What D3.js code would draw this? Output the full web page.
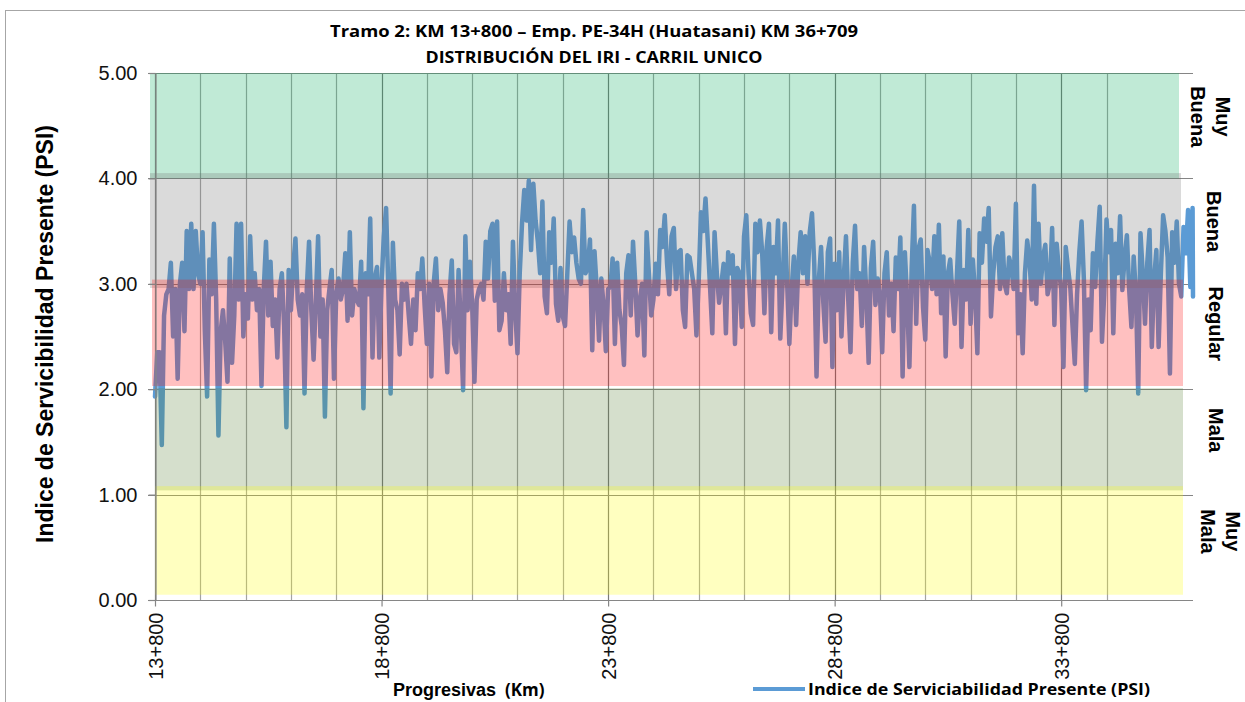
<!DOCTYPE html>
<html>
<head>
<meta charset="utf-8">
<script src="https://cdn.jsdelivr.net/npm/d3@7"></script>
<style>
  html, body { margin: 0; padding: 0; background: #fff; }
  svg { display: block; }
</style>
</head>
<body>
<svg id="chart" width="1245" height="702"></svg>
<script>
// ---- chart data ----
const titleLines = [
  "Tramo 2: KM 13+800 \u2013 Emp. PE-34H (Huatasani) KM 36+709",
  "DISTRIBUCIÓN DEL IRI - CARRIL UNICO"
];
const yAxisTitle = "Indice de Servicibilidad Presente (PSI)";
const seriesName = "Indice de Serviciabilidad Presente (PSI)";

// progressive chainage (km), readings every 50 m, last reading at the end of the section
const startKm = 13.8;
const endKm = 36.709;
const stepKm = 0.05;

// PSI readings, one row per kilometre
const psi = [
  1.93, 2.35, 2.35, 1.47, 2.70, 2.90, 2.95, 3.20, 2.50, 2.95, 2.10, 3.00, 3.20, 2.55, 3.50, 2.95, 3.57, 2.95, 3.50, 3.10,
  3.00, 3.49, 2.55, 1.93, 3.23, 2.90, 3.57, 2.85, 1.56, 2.55, 2.75, 2.45, 2.07, 3.24, 2.25, 2.70, 3.57, 2.85, 3.57, 2.50,
  2.90, 2.67, 3.45, 2.85, 3.10, 2.75, 2.95, 2.03, 2.95, 3.40, 2.70, 3.21, 2.60, 2.85, 2.30, 2.95, 3.10, 2.60, 1.64, 3.13,
  2.75, 3.16, 3.43, 2.85, 2.70, 2.90, 1.96, 2.95, 3.40, 2.75, 2.28, 2.85, 3.45, 2.50, 2.85, 1.74, 2.75, 2.95, 3.13, 2.10,
  2.90, 3.05, 2.85, 2.95, 3.29, 2.65, 3.49, 2.70, 2.95, 2.85, 2.80, 3.21, 1.82, 3.10, 2.90, 3.62, 2.30, 3.05, 3.16, 2.30,
  3.00, 3.45, 3.72, 2.95, 1.96, 3.39, 2.85, 2.75, 2.33, 3.00, 2.85, 3.00, 2.70, 2.43, 2.85, 2.56, 3.10, 2.95, 3.24, 2.80,
  2.43, 3.00, 2.12, 3.00, 3.24, 2.75, 2.95, 2.82, 2.55, 2.16, 2.90, 3.22, 2.43, 2.35, 3.13, 2.60, 1.99, 3.45, 2.75, 3.21,
  2.80, 2.07, 2.85, 2.95, 3.00, 2.85, 3.40, 3.05, 3.50, 3.57, 2.84, 3.59, 2.56, 2.65, 3.10, 2.75, 2.90, 2.43, 3.40, 2.75,
  2.34, 3.10, 3.57, 3.89, 3.60, 3.98, 3.32, 3.95, 3.60, 3.40, 3.10, 3.78, 2.88, 2.72, 3.49, 3.20, 3.62, 2.81, 2.65, 3.15,
  2.69, 2.60, 3.10, 3.59, 3.30, 3.44, 3.20, 3.05, 3.00, 3.70, 3.10, 3.15, 3.42, 2.37, 3.31, 2.95, 2.46, 3.05, 2.80, 2.36,
  2.95, 2.97, 3.24, 2.43, 3.20, 2.75, 2.60, 2.23, 3.10, 3.27, 2.70, 3.40, 3.00, 2.51, 2.85, 3.00, 2.32, 3.49, 3.10, 2.70,
  2.85, 3.19, 2.90, 3.51, 3.35, 3.65, 3.20, 2.90, 3.45, 3.53, 2.95, 3.30, 3.32, 2.75, 2.59, 3.27, 3.25, 3.10, 2.95, 2.51,
  3.03, 3.68, 3.50, 3.81, 3.40, 2.97, 2.53, 3.49, 3.10, 2.82, 3.00, 3.19, 2.53, 3.30, 3.10, 3.27, 2.43, 3.15, 3.10, 2.59,
  3.45, 3.65, 3.10, 2.72, 2.61, 3.57, 3.30, 3.60, 3.30, 2.72, 3.35, 3.57, 2.54, 3.35, 3.10, 3.60, 2.48, 3.00, 3.57, 3.03,
  2.43, 2.95, 3.26, 2.61, 3.20, 3.49, 3.10, 3.45, 3.00, 3.49, 3.67, 3.19, 2.12, 3.03, 3.35, 2.82, 2.45, 3.30, 3.43, 2.21,
  3.19, 2.75, 3.30, 2.50, 3.05, 3.45, 2.85, 2.35, 3.20, 3.55, 2.95, 3.10, 2.60, 3.35, 2.90, 2.25, 3.15, 3.40, 2.80, 3.05,
  2.90, 2.35, 3.10, 3.30, 2.70, 3.00, 2.55, 3.25, 2.95, 3.44, 2.12, 3.30, 2.85, 2.21, 3.15, 3.74, 2.62, 3.33, 3.42, 2.78,
  2.47, 3.32, 3.20, 2.95, 3.45, 2.90, 3.56, 2.72, 3.26, 2.31, 3.10, 3.23, 2.90, 2.62, 3.10, 3.59, 2.40, 3.13, 2.85, 3.51,
  2.62, 3.23, 2.90, 2.34, 3.48, 3.20, 3.62, 3.40, 3.72, 2.69, 3.10, 3.35, 3.45, 2.95, 3.48, 3.00, 2.91, 3.25, 3.16, 2.95,
  3.76, 2.53, 2.90, 2.34, 3.10, 3.41, 3.23, 2.85, 3.93, 2.81, 3.57, 3.00, 3.26, 3.37, 2.90, 3.00, 3.53, 2.61, 3.38, 3.13,
  2.95, 2.21, 3.35, 3.15, 2.97, 2.60, 2.24, 2.90, 3.30, 3.59, 3.05, 1.99, 2.85, 2.56, 3.29, 2.97, 3.40, 3.73, 2.45, 2.91,
  3.61, 3.30, 3.51, 2.53, 3.38, 3.10, 3.64, 2.94, 3.25, 3.46, 2.95, 2.59, 3.26, 2.90, 1.96, 3.48, 3.10, 2.62, 3.20, 3.51,
  2.40, 3.04, 3.32, 2.40, 3.10, 3.65, 3.50, 3.25, 2.15, 3.49, 3.20, 3.59, 3.00, 2.88, 3.54, 3.29, 3.70, 2.97, 3.72, 2.88
];

// axis ticks
const xTickKm = [13.8, 18.8, 23.8, 28.8, 33.8];
const yTicks = [0, 1, 2, 3, 4, 5];

// condition bands (PSI ranges), top to bottom
const bandNames = [["Muy", "Buena"], ["Buena"], ["Regular"], ["Mala"], ["Muy", "Mala"]];
const bandLow  = [4.00, 2.96, 2.03, 1.04, 0.05];
const bandHigh = [5.00, 4.05, 3.04, 2.01, 1.08];
const bandColors = ["rgb(3,171,91)", "rgb(107,107,107)", "rgb(255,3,3)", "rgb(87,127,51)", "rgb(255,255,3)"];

// ---- drawing ----
const W = 1245, H = 702;
const plot = { left: 155, right: 1193, top: 73, bottom: 600 };
const sans = "'Liberation Sans', Arial, sans-serif";
const narrow = "'Open Sans', 'Liberation Sans', sans-serif";
const lineBlue = "#5b9bd5";

const stations = psi.map((_, i) => (i === psi.length - 1 ? endKm : startKm + i * stepKm));

const x = d3.scaleLinear().domain([startKm, endKm]).range([plot.left, plot.right]);
const y = d3.scaleLinear().domain([0, 5]).range([plot.bottom, plot.top]);

const svg = d3.select("#chart");

// chart frame
svg.append("rect")
  .attr("x", 5.5).attr("y", 10.5)
  .attr("width", W).attr("height", H)
  .attr("fill", "#fff").attr("stroke", "#a6a6a6");

// gridlines: one vertical per kilometre, darker every 5 km
const gridKm = d3.range(0, Math.floor(endKm - startKm)).map(k => startKm + k);
svg.append("g").selectAll("line").data(gridKm).join("line")
  .attr("x1", d => Math.round(x(d)) + 0.5).attr("x2", d => Math.round(x(d)) + 0.5)
  .attr("y1", y(5)).attr("y2", y(0))
  .attr("stroke", (d, i) => (i % 5 === 0 ? "#7a7a7a" : "#a3a3a3"))
  .attr("stroke-width", 1.2);

svg.append("g").selectAll("line").data(yTicks.filter(t => t > 0)).join("line")
  .attr("x1", plot.left - 7).attr("x2", plot.right)
  .attr("y1", d => Math.round(y(d)) + 0.5).attr("y2", d => Math.round(y(d)) + 0.5)
  .attr("stroke", "#858585").attr("stroke-width", 1.2);

// PSI series
const line = d3.line()
  .x((d, i) => x(stations[i]))
  .y(d => y(d));

svg.append("path")
  .datum(psi)
  .attr("d", line)
  .attr("fill", "none")
  .attr("stroke", lineBlue)
  .attr("stroke-width", 4.5)
  .attr("stroke-linejoin", "round")
  .attr("stroke-linecap", "round");

// translucent condition bands laid over the series
const bandLeftPad = [-5, -5, -3, 0, 0];
const bandRightPad = [-14, -12, -10, -10, -10];
svg.append("g").selectAll("rect").data(bandLow).join("rect")
  .attr("x", (d, i) => plot.left + bandLeftPad[i])
  .attr("width", (d, i) => (plot.right + bandRightPad[i]) - (plot.left + bandLeftPad[i]))
  .attr("y", (d, i) => y(bandHigh[i]))
  .attr("height", (d, i) => y(bandLow[i]) - y(bandHigh[i]))
  .attr("fill", (d, i) => bandColors[i])
  .attr("fill-opacity", 0.25);

// axes
const yAxis = svg.append("g")
  .attr("transform", `translate(${plot.left + 0.5},0)`)
  .call(d3.axisLeft(y).tickValues(yTicks).tickFormat(d3.format(".2f")).tickSize(7).tickSizeOuter(0).tickPadding(11));
yAxis.select(".domain").attr("stroke", "#868686").attr("stroke-width", 1.2);
yAxis.selectAll(".tick line").attr("stroke", "#868686").attr("stroke-width", 1.2);
yAxis.selectAll(".tick text")
  .attr("font-family", sans).attr("font-size", 20).attr("fill", "#111");

const kmLabel = km => {
  const whole = Math.floor(km + 1e-9);
  const m = Math.round((km - whole) * 1000);
  return `${whole}+${String(m).padStart(3, "0")}`;
};

const xAxis = svg.append("g")
  .attr("transform", `translate(0,${plot.bottom + 0.5})`)
  .call(d3.axisBottom(x).tickValues(xTickKm).tickFormat(kmLabel).tickSize(6).tickSizeOuter(0));
xAxis.select(".domain").attr("stroke", "#868686").attr("stroke-width", 1.2)
  .attr("d", `M${plot.left - 7},0H${plot.right}`);
xAxis.selectAll(".tick line").attr("stroke", "#868686").attr("stroke-width", 1.2);
xAxis.selectAll(".tick text")
  .attr("font-family", sans).attr("font-size", 20).attr("fill", "#111")
  .attr("transform", "rotate(-90)")
  .attr("text-anchor", "end")
  .attr("x", -12).attr("y", 0).attr("dy", "0.36em");

// titles
svg.append("g").selectAll("text").data(titleLines).join("text")
  .attr("x", 594)
  .attr("y", (d, i) => 37 + i * 26)
  .attr("text-anchor", "middle")
  .attr("font-family", narrow).attr("font-weight", "bold").attr("font-size", 16)
  .attr("textLength", (d, i) => (i === 0 ? 528 : 337))
  .attr("lengthAdjust", "spacingAndGlyphs")
  .text(d => d);

svg.append("text")
  .attr("transform", "translate(53,334) rotate(-90)")
  .attr("text-anchor", "middle")
  .attr("font-family", sans).attr("font-weight", "bold").attr("font-size", 23)
  .text(yAxisTitle);

const xTitle = svg.append("text")
  .attr("y", 696)
  .attr("font-weight", "bold").attr("fill", "#000");
xTitle.append("tspan").attr("x", 393).attr("font-family", sans).attr("font-size", 18).text("Progresivas");
xTitle.append("tspan").attr("x", 505).attr("font-family", narrow).attr("font-size", 17).text("(Km)");

// band names on the right
const bandLabelX = [1210, 1214, 1216, 1216, 1220];
bandNames.forEach((lines, i) => {
  const cy = y((bandLow[i] + bandHigh[i]) / 2) - 9;
  const t = svg.append("text")
    .attr("transform", `translate(${bandLabelX[i]},${cy}) rotate(90)`)
    .attr("text-anchor", "middle")
    .attr("font-family", sans).attr("font-weight", "bold").attr("font-size", 20)
    .attr("fill", "#000");
  lines.forEach((s, j) => {
    t.append("tspan")
      .attr("x", 0)
      .attr("y", (j - (lines.length - 1) / 2) * 25)
      .attr("dy", "0.35em")
      .text(s);
  });
});

// legend
svg.append("line")
  .attr("x1", 753).attr("x2", 805).attr("y1", 689).attr("y2", 689)
  .attr("stroke", lineBlue).attr("stroke-width", 4);
svg.append("text")
  .attr("x", 808).attr("y", 695)
  .attr("font-family", narrow).attr("font-weight", "bold").attr("font-size", 16)
  .attr("textLength", 342).attr("lengthAdjust", "spacingAndGlyphs")
  .text(seriesName);
</script>
</body>
</html>
